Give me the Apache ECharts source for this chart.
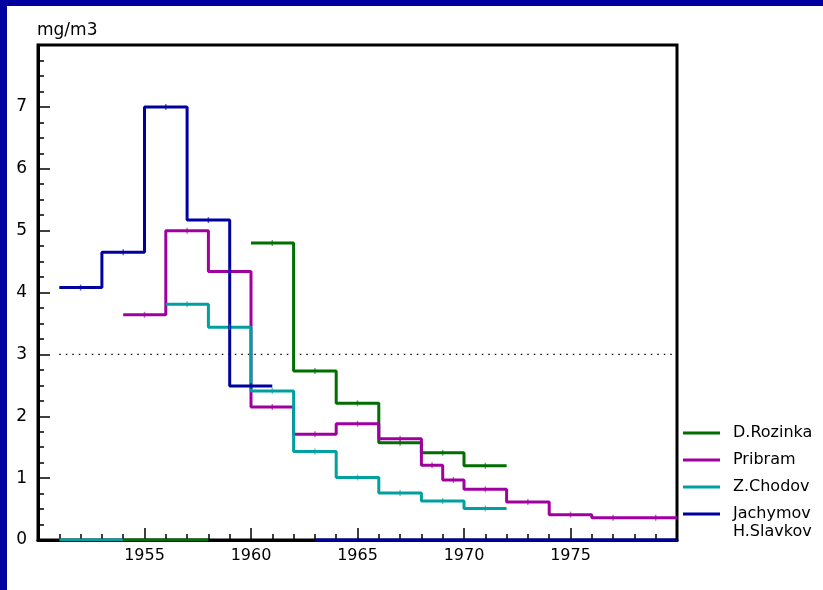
<!DOCTYPE html>
<html>
<head>
<meta charset="utf-8">
<script src="https://cdn.jsdelivr.net/npm/echarts@6/dist/echarts.min.js"></script>
<style>
  html, body { margin: 0; padding: 0; background: #fff; }
  #chart { width: 823px; height: 590px; }
</style>
</head>
<body>
<div id="chart"></div>
<script>
// bin edges (years) and values (mg/m3)
const rozinkaEdges = [1960, 1962, 1964, 1966, 1968, 1970, 1972];
const rozinkaValues = [4.80, 2.73, 2.21, 1.57, 1.41, 1.20];
const pribramEdges = [1954, 1956, 1958, 1960, 1962, 1964, 1966, 1968, 1969, 1970, 1972, 1974, 1976, 1978, 1980];
const pribramValues = [3.64, 5.00, 4.34, 2.15, 1.71, 1.88, 1.635, 1.21, 0.97, 0.82, 0.615, 0.41, 0.36, 0.36];
const chodovEdges = [1956, 1958, 1960, 1962, 1964, 1966, 1968, 1970, 1972];
const chodovValues = [3.81, 3.44, 2.41, 1.43, 1.01, 0.76, 0.63, 0.51];
const jachymovEdges = [1951, 1953, 1955, 1957, 1959, 1961];
const jachymovValues = [4.08, 4.65, 7.00, 5.17, 2.49];

// empty stretches drawn along zero
const chodovZero = [1951, 1954];
const rozinkaZero = [1954, 1958];
const jachymovZero = [1963, 1980];

const limitValue = 3;
const limitRange = [1951, 1980];

const xTickLabels = [1955, 1960, 1965, 1970, 1975];
const yTickLabels = [0, 1, 2, 3, 4, 5, 6, 7];

const colors = {
  rozinka: '#006e00',
  pribram: '#a000a0',
  chodov: '#00a0a0',
  jachymov: '#0000a0'
};

const font = 'DejaVu Sans';

function stepData (edges, values) {
  return edges.map((e, i) => [e, values[Math.min(i, values.length - 1)]]);
}
function centers (edges, values) {
  return values.map((v, i) => [(edges[i] + edges[i + 1]) / 2, v]);
}
function zeroData (range) {
  return [[range[0], 0], [range[1], 0]];
}

function histSeries (name, edges, values, color) {
  return {
    name: name,
    type: 'line',
    step: 'end',
    symbol: 'none',
    data: stepData(edges, values),
    lineStyle: { color: color, width: 3 },
    itemStyle: { color: color },
    z: 3
  };
}
function zeroSeries (name, range, color) {
  return {
    name: name,
    type: 'line',
    symbol: 'none',
    data: zeroData(range),
    lineStyle: { color: color, width: 3 },
    itemStyle: { color: color },
    z: 3
  };
}
function markSeries (edges, values, color) {
  return {
    type: 'scatter',
    symbol: 'rect',
    symbolSize: [1.5, 6],
    data: centers(edges, values),
    itemStyle: { color: color, opacity: 0.6 },
    silent: true,
    z: 4
  };
}

let myChart = echarts.init(document.getElementById('chart'));
myChart.setOption({
  animation: false,
  backgroundColor: '#fff',
  grid: {
    left: 38,
    top: 45,
    width: 639,
    height: 495,
    show: true,
    borderColor: '#000',
    borderWidth: 3
  },
  legend: {
    orient: 'vertical',
    left: 683,
    top: 425,
    padding: 0,
    icon: 'rect',
    itemWidth: 37,
    itemHeight: 3,
    itemGap: 11,
    data: ['D.Rozinka', 'Pribram', 'Z.Chodov', 'Jachymov'],
    textStyle: { fontFamily: font, fontSize: 16, color: '#000', lineHeight: 16, padding: [0, 0, 0, 8] }
  },
  xAxis: {
    type: 'value',
    min: 1950,
    max: 1980,
    interval: 5,
    axisLine: { show: true, lineStyle: { color: '#000', width: 3 } },
    axisTick: { show: true, inside: true, length: 12, lineStyle: { color: '#000', width: 1.5 } },
    minorTick: { show: true, splitNumber: 5, length: 6, lineStyle: { color: '#000', width: 1.5 } },
    splitLine: { show: false },
    axisLabel: {
      margin: 8,
      fontFamily: font,
      fontSize: 16,
      color: '#000',
      formatter: v => xTickLabels.includes(v) ? String(v) : ''
    }
  },
  yAxis: {
    type: 'value',
    min: 0,
    max: 8,
    interval: 1,
    axisLine: { show: true, lineStyle: { color: '#000', width: 3 } },
    axisTick: { show: true, inside: true, length: 12, lineStyle: { color: '#000', width: 1.5 } },
    minorTick: { show: true, splitNumber: 4, length: 6, lineStyle: { color: '#000', width: 1.5 } },
    splitLine: { show: false },
    axisLabel: {
      margin: 11,
      fontFamily: font,
      fontSize: 17,
      color: '#000',
      formatter: v => yTickLabels.includes(v) ? String(v) : ''
    }
  },
  graphic: [
    { type: 'rect', left: 0, top: 0, shape: { width: 823, height: 6 }, style: { fill: '#0000a0' } },
    { type: 'rect', left: 0, top: 0, shape: { width: 7, height: 590 }, style: { fill: '#0000a0' } },
    { type: 'text', left: 37, top: 22, style: { text: 'mg/m3', font: '17px "DejaVu Sans"', fill: '#000' } },
    { type: 'text', left: 733, top: 524, style: { text: 'H.Slavkov', font: '16px "DejaVu Sans"', fill: '#000' } }
  ],
  series: [
    {
      type: 'line',
      symbol: 'none',
      silent: true,
      data: [[limitRange[0], limitValue], [limitRange[1], limitValue]],
      lineStyle: { color: '#000', width: 1.2, type: [1.5, 5] },
      z: 2
    },
    zeroSeries('Z.Chodov', chodovZero, colors.chodov),
    zeroSeries('D.Rozinka', rozinkaZero, colors.rozinka),
    zeroSeries('Jachymov', jachymovZero, colors.jachymov),
    histSeries('D.Rozinka', rozinkaEdges, rozinkaValues, colors.rozinka),
    histSeries('Pribram', pribramEdges, pribramValues, colors.pribram),
    histSeries('Z.Chodov', chodovEdges, chodovValues, colors.chodov),
    histSeries('Jachymov', jachymovEdges, jachymovValues, colors.jachymov),
    markSeries(rozinkaEdges, rozinkaValues, colors.rozinka),
    markSeries(pribramEdges, pribramValues, colors.pribram),
    markSeries(chodovEdges, chodovValues, colors.chodov),
    markSeries(jachymovEdges, jachymovValues, colors.jachymov)
  ]
});
</script>
</body>
</html>
